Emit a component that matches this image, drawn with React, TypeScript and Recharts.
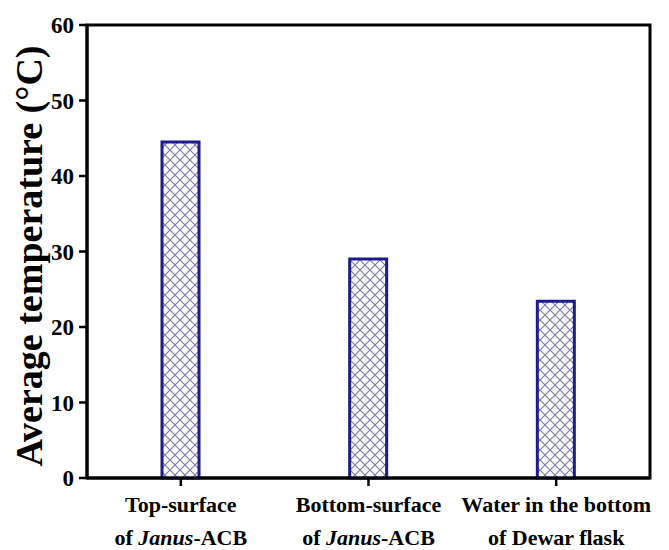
import React from "react";
import {
  BarChart,
  Bar,
  XAxis,
  YAxis,
  ReferenceArea,
} from "recharts";

const categories = [
  "Top-surface of Janus-ACB",
  "Bottom-surface of Janus-ACB",
  "Water in the bottom of Dewar flask",
];
const temperatures = [44.5, 29.0, 23.4];
const yTicks = [0, 10, 20, 30, 40, 50, 60];

// two-line tick labels; the middle piece of the second line is italic
const labelTop = ["Top-surface", "Bottom-surface", "Water in the bottom"];
const labelBottom = [
  ["of ", "Janus", "-ACB"],
  ["of ", "Janus", "-ACB"],
  ["of Dewar flask", "", ""],
];

const FONT = "'Liberation Serif', 'Times New Roman', serif";
const BAR_EDGE = "#1c1c8e";
const HATCH = "#7c7cab";

const data = categories.map((name, i) => ({
  name,
  temp: temperatures[i],
}));

const CategoryTick = (props: any) => {
  const { x, y, payload } = props;
  const i = categories.indexOf(payload.value);
  const [pre, ital, post] = labelBottom[i];
  return (
    <g>
      <text
        x={x}
        y={y + 24}
        textAnchor="middle"
        fontFamily={FONT}
        fontWeight="bold"
        fontSize={22}
        fill="#000"
      >
        {labelTop[i]}
      </text>
      <text
        x={x}
        y={y + 57}
        textAnchor="middle"
        fontFamily={FONT}
        fontWeight="bold"
        fontSize={22}
        fill="#000"
      >
        {pre}
        {ital && <tspan fontStyle="italic">{ital}</tspan>}
        {post}
      </text>
    </g>
  );
};

const YTitle = () => (
  <text
    x={42}
    y={256}
    transform="rotate(-90, 42, 256)"
    textAnchor="middle"
    fontFamily={FONT}
    fontWeight="bold"
    fontSize={38}
    fill="#000"
  >
    Average temperature (°C)
  </text>
);

const App = () => {
  return (
    <div style={{ position: "absolute", left: 0, top: 0 }}>
      <BarChart
        width={669}
        height={550}
        data={data}
        margin={{ top: 25, right: 19, left: 0, bottom: 0 }}
      >
        <defs>
          <pattern
            id="crossHatch"
            patternUnits="userSpaceOnUse"
            width={10}
            height={10}
          >
            <rect width={10} height={10} fill="#fff" />
            <path
              d="M0,0 L10,10 M10,0 L0,10"
              stroke={HATCH}
              strokeWidth={1.2}
            />
          </pattern>
        </defs>
        <XAxis
          dataKey="name"
          height={72}
          tickSize={8}
          tickMargin={2}
          axisLine={{ stroke: "#000", strokeWidth: 3 }}
          tickLine={{ stroke: "#000", strokeWidth: 2.5 }}
          tick={<CategoryTick />}
          interval={0}
        />
        <YAxis
          width={87}
          domain={[0, 60]}
          ticks={yTicks}
          tickSize={8}
          tickMargin={5}
          axisLine={{ stroke: "#000", strokeWidth: 3 }}
          tickLine={{ stroke: "#000", strokeWidth: 2.5 }}
          tick={{
            fill: "#000",
            fontSize: 23,
            fontWeight: "bold",
            fontFamily: FONT,
          }}
        />
        <Bar
          dataKey="temp"
          barSize={37}
          fill="url(#crossHatch)"
          stroke={BAR_EDGE}
          strokeWidth={3}
          isAnimationActive={false}
        />
        <ReferenceArea
          y1={0}
          y2={60}
          fill="none"
          stroke="#000"
          strokeWidth={3}
          ifOverflow="visible"
        />
        <YTitle />
      </BarChart>
    </div>
  );
};

export default App;
